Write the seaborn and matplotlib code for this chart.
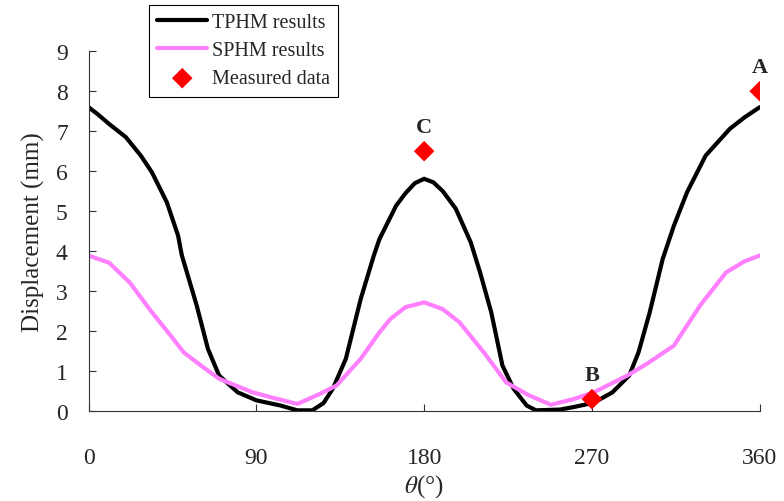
import matplotlib
matplotlib.use('Agg')
import matplotlib.pyplot as plt
import seaborn as sns

# TPHM results (black curve)
tphm_theta = [0, 5, 11, 20, 28, 34, 42, 48, 50, 58, 64, 70, 80, 90, 103, 112, 120,
              126, 131, 138, 146, 153, 156, 165, 170, 175, 180, 185, 190, 197, 205,
              210, 216, 222, 228, 235, 240, 253, 260, 271, 281, 290, 295, 301, 308,
              314, 321, 331, 344, 352, 360]
tphm_disp = [7.6, 7.42, 7.18, 6.85, 6.39, 5.97, 5.22, 4.39, 3.9, 2.64, 1.56, 0.89,
             0.47, 0.27, 0.14, 0.02, 0.02, 0.2, 0.56, 1.31, 2.81, 3.89, 4.3, 5.14,
             5.45, 5.7, 5.81, 5.72, 5.5, 5.06, 4.22, 3.47, 2.47, 1.14, 0.56, 0.14,
             0.02, 0.04, 0.1, 0.21, 0.47, 0.89, 1.47, 2.47, 3.81, 4.64, 5.47, 6.39,
             7.06, 7.35, 7.6]

# SPHM results (pink curve)
sphm_theta = [0, 11, 22, 34, 44, 51, 60, 70, 88, 100, 112, 124, 133, 146, 156, 162,
              170, 180, 190, 199, 212, 224, 236, 248, 260, 271, 289, 300, 314, 328,
              342, 352, 360]
sphm_disp = [3.89, 3.71, 3.22, 2.47, 1.89, 1.47, 1.15, 0.81, 0.47, 0.32, 0.18, 0.43,
             0.64, 1.31, 1.97, 2.31, 2.6, 2.72, 2.55, 2.22, 1.47, 0.72, 0.4, 0.16,
             0.3, 0.47, 0.89, 1.2, 1.64, 2.64, 3.47, 3.75, 3.89]

# measured points
meas_theta = [360, 270, 180]
meas_disp = [8.0, 0.3, 6.5]
meas_labels = ['A', 'B', 'C']

sns.set_style('ticks')
plt.rcParams['font.family'] = ['Liberation Serif', 'DejaVu Sans']
plt.rcParams['mathtext.fontset'] = 'stix'

fig = plt.figure(figsize=(7.84, 5.02), dpi=100)
ax = fig.add_axes([0.113, 0.179, 0.856, 0.717])

sns.lineplot(x=tphm_theta, y=tphm_disp, color='black', lw=3, ax=ax, label='TPHM results')
sns.lineplot(x=sphm_theta, y=sphm_disp, color='#ff80ff', lw=3, ax=ax, label='SPHM results')
sns.scatterplot(x=meas_theta, y=meas_disp, marker='D', color='red', s=110,
                edgecolor='none', ax=ax, label='Measured data', zorder=5)

for t, d, lab in zip(meas_theta, meas_disp, meas_labels):
    ax.text(t, d + 0.6, lab, ha='center', va='center', fontsize=16, fontweight='bold')

ax.set_xlim(0, 360)
ax.set_ylim(0, 9)
ax.set_xticks([0, 90, 180, 270, 360])
ax.set_yticks(range(10))
ax.tick_params(direction='in', length=5, width=0.8, color='#333333', labelsize=17)
ax.tick_params(axis='x', pad=26)
ax.tick_params(axis='y', pad=15)
sns.despine(ax=ax)
for s in ['left', 'bottom']:
    ax.spines[s].set_linewidth(0.8)
    ax.spines[s].set_color('#333333')

ax.set_xlabel(r'$\theta$(°)', fontsize=18, labelpad=3)
ax.set_ylabel('Displacement (mm)', fontsize=18, labelpad=8)

ax.get_legend().remove()
h, l = ax.get_legend_handles_labels()
fig.legend(h, l, loc='upper left', bbox_to_anchor=(149 / 784, 1 - 6 / 502),
           borderaxespad=0, fancybox=False, edgecolor='black', framealpha=1,
           fontsize=14.5, handlelength=2.5, handletextpad=0.25, labelspacing=0.45,
           borderpad=0.4)
fig.legends[0].get_frame().set_linewidth(0.8)

fig.savefig('out.png', dpi=100)
